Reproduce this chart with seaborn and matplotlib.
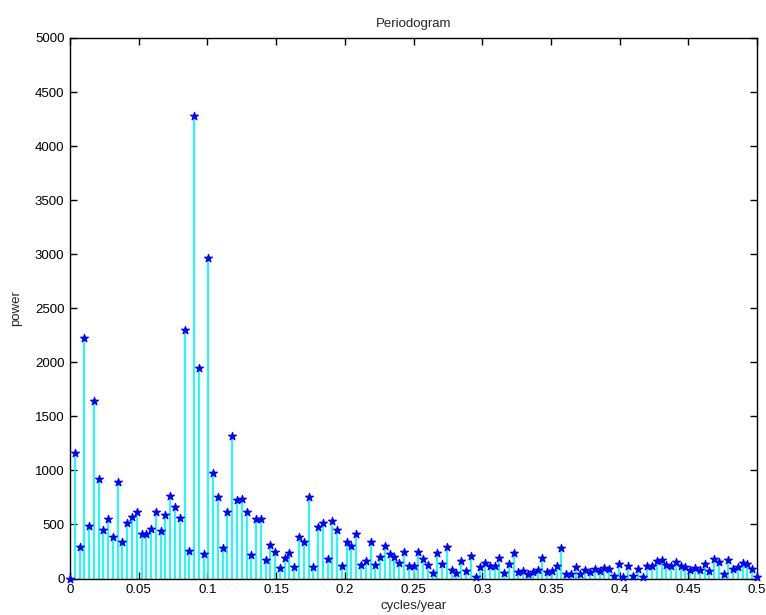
import numpy as np
import pandas as pd
import matplotlib
matplotlib.use("Agg")
import matplotlib.pyplot as plt
import seaborn as sns

# Periodogram power values, one per frequency bin
power = [
    0, 1160, 292, 2226, 485, 1639, 918, 445, 553, 381,
    893, 338, 516, 565, 617, 414, 408, 460, 617, 442,
    583, 764, 657, 556, 2296, 252, 4275, 1943, 230, 2965,
    979, 752, 279, 617, 1314, 725, 731, 617, 218, 553,
    553, 175, 310, 246, 95, 193, 236, 107, 380, 335,
    750, 111, 473, 510, 181, 531, 448, 120, 335, 304,
    411, 126, 163, 341, 126, 203, 304, 227, 203, 147,
    249, 120, 120, 242, 182, 124, 54, 232, 130, 287,
    78, 48, 158, 69, 207, 17, 106, 146, 118, 118,
    192, 54, 134, 238, 63, 72, 38, 57, 81, 186,
    60, 72, 118, 284, 41, 41, 106, 41, 81, 63,
    87, 69, 100, 87, 23, 134, 17, 118, 23, 87,
    17, 118, 115, 162, 170, 126, 115, 149, 118, 109,
    78, 97, 78, 130, 72, 183, 155, 41, 167, 91,
    103, 140, 134, 87, 10,
]
n_years = 288  # frequency bins are k / n_years cycles/year
freq = np.arange(len(power)) / n_years

x_ticks = [0, 0.05, 0.1, 0.15, 0.2, 0.25, 0.3, 0.35, 0.4, 0.45, 0.5]
x_tick_labels = ["0", "0.05", "0.1", "0.15", "0.2", "0.25", "0.3", "0.35", "0.4", "0.45", "0.5"]
y_ticks = [0, 500, 1000, 1500, 2000, 2500, 3000, 3500, 4000, 4500, 5000]
y_tick_labels = [str(v) for v in y_ticks]

sns.set_theme(style="ticks")
plt.rcParams['font.family'] = ['Liberation Sans', 'DejaVu Sans']

W, H = 766, 615
fig = plt.figure(figsize=(W / 100, H / 100), dpi=100)
ax = fig.add_axes([70 / W, 1 - 578.5 / H, (757 - 70) / W, (578.5 - 38) / H])

df = pd.DataFrame({"freq": freq, "power": power})

ax.vlines(df["freq"], 0, df["power"], color="#00ffff", lw=1.3, zorder=2)
ax.plot([x_ticks[0], x_ticks[-1]], [0, 0], color="black", ls=":", lw=1.0, zorder=3)
sns.scatterplot(data=df, x="freq", y="power", marker="*", s=36, color="#0000ff",
                edgecolor="#0000ff", linewidth=0.8, ax=ax, zorder=4, clip_on=False,
                legend=False)

ax.set_xlim(x_ticks[0], x_ticks[-1])
ax.set_ylim(y_ticks[0], y_ticks[-1])
ax.set_xticks(x_ticks)
ax.set_xticklabels(x_tick_labels)
ax.set_yticks(y_ticks)
ax.set_yticklabels(y_tick_labels)
ax.tick_params(direction="in", top=True, right=True, length=5, width=1,
               labelsize=9.5, colors="black", pad=4)
for s in ax.spines.values():
    s.set_linewidth(1.0)
    s.set_color("black")

ax.set_xlabel("cycles/year", fontsize=9.5, labelpad=3)
ax.set_ylabel("power", fontsize=9.5, labelpad=9)
ax.set_title("Periodogram", fontsize=9.5, pad=8)

fig.savefig("out.png", dpi=100)
